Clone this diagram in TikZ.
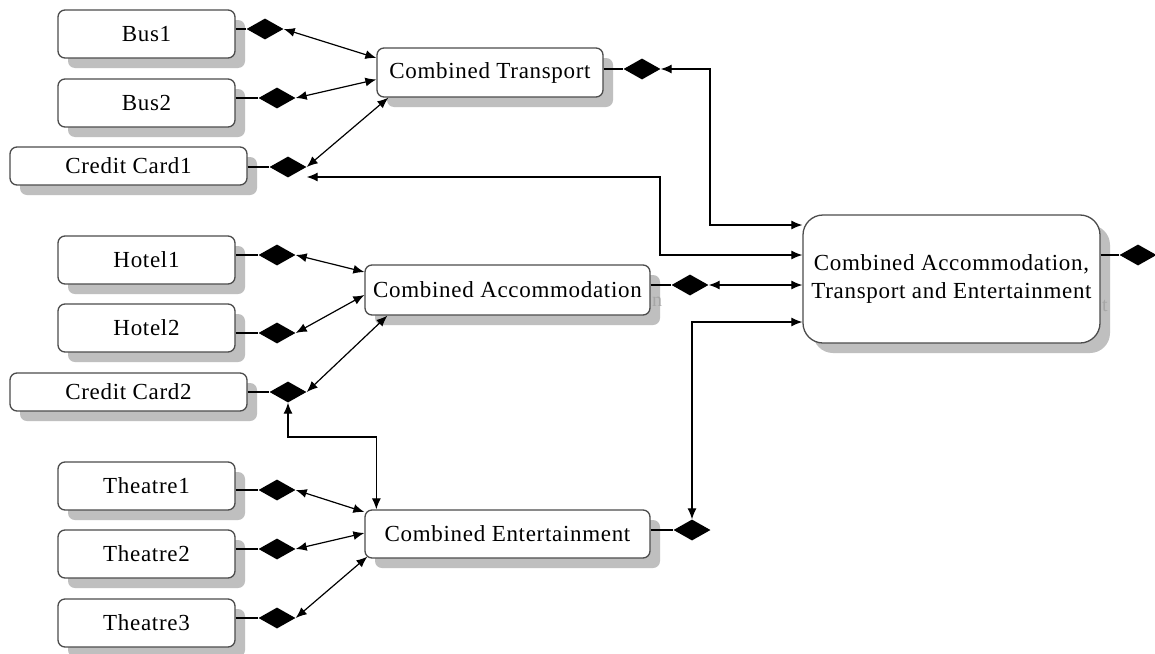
\documentclass[tikz,border=0pt]{standalone}
\usepackage{fontspec}
\setmainfont{Liberation Serif}[LetterSpace=3]
\usetikzlibrary{shapes.geometric,shadows,arrows.meta,calc}
\begin{document}
\begin{tikzpicture}[x=1pt,y=-1pt,
  box/.style={draw=black!70, line width=1.3pt, rounded corners=7pt, fill=white, inner sep=0pt,
    font=\fontsize{23}{28}\selectfont,
    drop shadow={shadow xshift=10pt, shadow yshift=-10pt, fill=black!25, opacity=1}},
  small/.style={box, minimum width=177pt, minimum height=48pt},
  card/.style={box, minimum width=237pt, minimum height=38pt},
  comb/.style={box, minimum width=285pt, minimum height=48pt},
  dia/.style={diamond, fill=black, minimum width=37pt, minimum height=21pt, inner sep=0pt},
  lnk/.style={line width=1.2pt, draw=black},
  tip/.tip={Latex[length=11pt,width=9pt]},
  dbl/.style={lnk, tip-tip},
  ghost/.style={text=black!35, font=\fontsize{20}{24}\selectfont, inner sep=0pt}]
\useasboundingbox (0,0) rectangle (1155,653);
\fill[white] (0,0) rectangle (1155,653);

% left column
\node[small] (bus1) at (146.5,34) {Bus1};
\node[small] (bus2) at (146.5,103) {Bus2};
\node[card] (cc1) at (128.5,166) {Credit Card1};
\node[small] (hotel1) at (146.5,260) {Hotel1};
\node[small] (hotel2) at (146.5,328) {Hotel2};
\node[card] (cc2) at (128.5,392) {Credit Card2};
\node[small] (th1) at (146.5,486) {Theatre1};
\node[small] (th2) at (146.5,554) {Theatre2};
\node[small] (th3) at (146.5,623) {Theatre3};

% combined
\node[box, minimum width=226pt, minimum height=49pt] (ct) at (490,72.5) {Combined Transport};
\node[comb, minimum height=50pt] (ca) at (507.5,290) {Combined Accommodation};
\node[comb] (ce) at (507.5,534) {Combined Entertainment};
\node[box, rounded corners=20pt, minimum width=297pt, minimum height=128pt, align=center] (big) at (951.5,279)
  {Combined Accommodation,\\Transport and Entertainment};

\node[ghost] (gn) at (657,302) {n};
\node[ghost] (gt) at (1105,306) {t};

% diamonds
\node[dia] (dbus1) at (265,29) {};
\node[dia] (dbus2) at (277,98) {};
\node[dia] (dcc1) at (288,167) {};
\node[dia] (dct) at (642,69) {};
\node[dia] (dh1) at (277,255) {};
\node[dia] (dh2) at (277,333) {};
\node[dia] (dcc2) at (288,392) {};
\node[dia] (dca) at (690,285) {};
\node[dia] (dt1) at (277,490) {};
\node[dia] (dt2) at (277,549) {};
\node[dia] (dt3) at (277,618) {};
\node[dia] (dce) at (692,530) {};
\node[dia] (dbig) at (1138,255) {};

% stubs from boxes to diamonds
\foreach \b/\d in {bus1/dbus1, bus2/dbus2, cc1/dcc1, ct/dct, hotel1/dh1, hotel2/dh2, cc2/dcc2, ca/dca, th1/dt1, th2/dt2, th3/dt3, ce/dce, big/dbig}
  \draw[lnk] (\d.west -| \b.east) -- (\d.west);

% bend points
\coordinate (k1) at (660,200);
\coordinate (k2) at (710,150);
\coordinate (k3) at (330,437);

% transport
\draw[dbl] (dbus1.east) -- ([yshift=14.5pt]ct.west);
\draw[dbl] (dbus2.east) -- ([yshift=-7pt]ct.west);
\draw[dbl] (dcc1.east) -- ([xshift=12pt]ct.south west);
\draw[dbl] ([yshift=-10pt]dcc1.east) -| (k1) |- ([yshift=24pt]big.west);
\draw[dbl] (dct.east) -| (k2) |- ([yshift=54pt]big.west);

% accommodation
\draw[dbl] (dh1.east) -- ([yshift=18pt]ca.west);
\draw[dbl] (dh2.east) -- ([yshift=-5pt]ca.west);
\draw[dbl] (dcc2.east) -- ([xshift=23pt]ca.south west);
\draw[dbl] (dca.east) -- (dca.east -| big.west);
\draw[dbl] (dcc2.south) |- (k3) -| ([xshift=12pt]ce.north west);

% entertainment
\draw[dbl] (dt1.east) -- ([yshift=22pt]ce.west);
\draw[dbl] (dt2.east) -- ([yshift=1pt]ce.west);
\draw[dbl] (dt3.east) -- ([xshift=3pt,yshift=2pt]ce.south west);
\draw[dbl] ([yshift=-43pt]big.west) -| (dce.north);
\end{tikzpicture}
\end{document}
